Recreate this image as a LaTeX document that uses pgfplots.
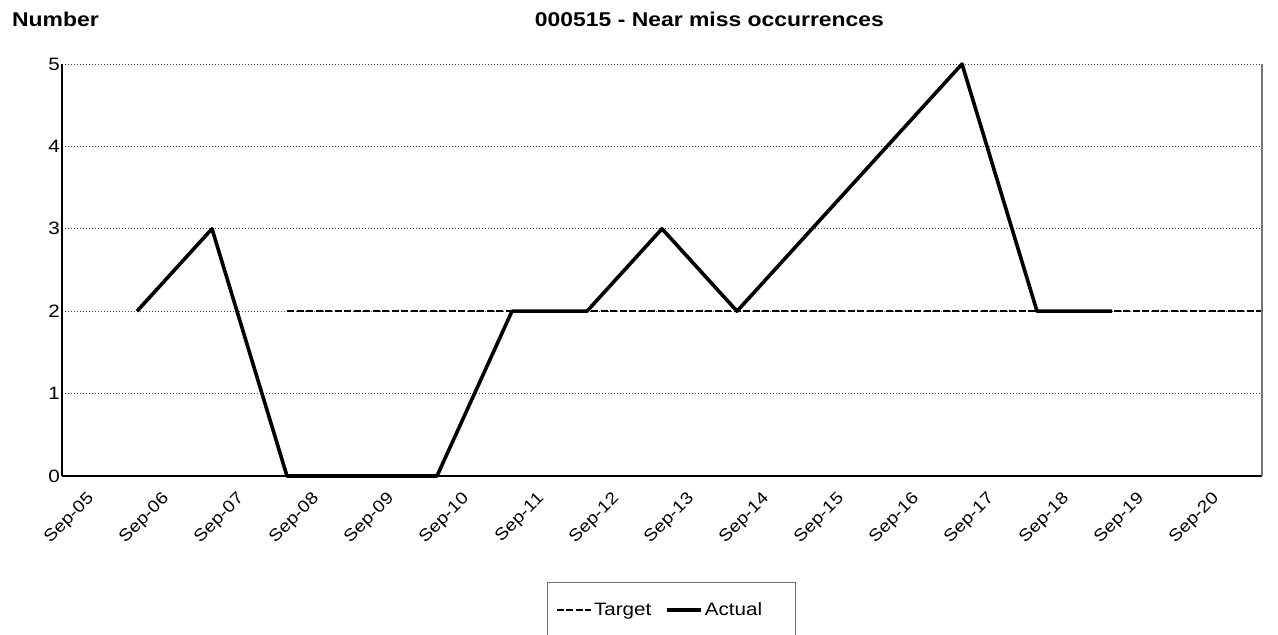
\documentclass[border=0pt]{standalone}
\usepackage{fontspec}
\setmainfont{Liberation Sans}[FakeStretch=1.15]
\usepackage{pgfplots}
\pgfplotsset{compat=1.18}
\newcommand{\tickfont}{\fontsize{18}{18}\selectfont}
\newcommand{\xtickfont}{\fontsize{16.8}{16.8}\selectfont}
\newcommand{\titlefont}{\bfseries\fontsize{20}{20}\selectfont}
\begin{document}
\begin{tikzpicture}[x=1bp,y=1bp]
\begin{axis}[
  at={(0,0)}, anchor=south west,
  scale only axis, width=1200bp, height=412bp,
  xmin=0, xmax=16, ymin=0, ymax=5,
  ytick={0,1,2,3,4,5},
  xtick={0.5,1.5,...,15.5},
  xticklabels={Sep-05,Sep-06,Sep-07,Sep-08,Sep-09,Sep-10,Sep-11,Sep-12,Sep-13,Sep-14,Sep-15,Sep-16,Sep-17,Sep-18,Sep-19,Sep-20},
  /pgf/number format/assume math mode=true,
  yticklabel style={font=\tickfont, inner sep=2bp},
  xticklabel style={font=\xtickfont, rotate=45, anchor=north east, inner sep=1bp, xshift=-19bp},
  major tick length=0pt,
  ymajorgrids,
  major grid style={draw=black!75, line width=0.8bp, dash pattern=on 1bp off 2bp},
  axis x line*=bottom, axis y line*=left,
  x axis line style={line width=2bp},
  y axis line style={line width=1.3bp},
  clip=false,
  legend columns=2,
  legend style={at={(0.4983,-0.3252)}, anchor=center, draw=none, fill=none,
    font=\tickfont, nodes={inner sep=2bp},
    /tikz/every even column/.append style={column sep=12bp}},
  legend image code/.code={\draw[#1] (0bp,0bp) -- (34bp,0bp);},
]
\addplot[black, line width=2.3bp, dash pattern=on 7bp off 2.5bp] coordinates {
  (3,2) (4,2) (5,2) (6,2) (7,2) (8,2) (9,2) (10,2) (11,2) (12,2) (13,2) (14,2) (15,2) (16,2)};
\addlegendentry{Target}
\addplot[black, line width=3.6bp, line join=round] coordinates {
  (1,2) (2,3) (3,0) (4,0) (5,0) (6,2) (7,2) (8,3) (9,2) (10,3) (11,4) (12,5) (13,2) (14,2)};
\addlegendentry{Actual}
\draw[black!55, line width=1.3bp] (rel axis cs:1,0) -- (rel axis cs:1,1);
\end{axis}
\node[anchor=base west, font=\titlefont, inner sep=0pt] at (-50,449) {Number};
\node[anchor=base, font=\titlefont, inner sep=0pt] at (647.5,449) {000515 - Near miss occurrences};
\draw[black!55, line width=1bp] (485,-165) rectangle (733,-107);
\pgfresetboundingbox
\useasboundingbox (-62,-159) rectangle (1216,476);
\end{tikzpicture}
\end{document}
